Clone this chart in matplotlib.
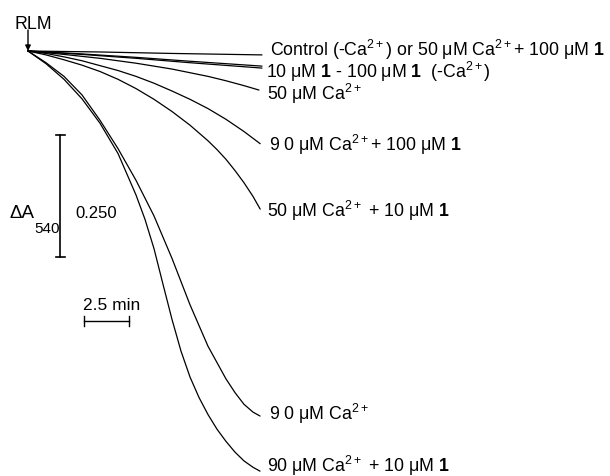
import matplotlib
matplotlib.use("Agg")
import matplotlib.pyplot as plt

plt.rcParams['font.family'] = ['Liberation Sans', 'DejaVu Sans']
plt.rcParams['mathtext.fontset'] = 'custom'
plt.rcParams['mathtext.rm'] = 'Liberation Sans'
plt.rcParams['mathtext.it'] = 'Liberation Sans:italic'
plt.rcParams['mathtext.bf'] = 'Liberation Sans:bold'

# time (min) and absorbance decrease (ΔA540) for each trace
t_control = [0, 4, 8, 13.0]
a_control = [0, 0.002, 0.005, 0.008]

t_c10a = [0, 3, 6, 9, 13.0]
a_c10a = [0, 0.007, 0.015, 0.024, 0.035]
t_c10b = [0, 3, 6, 9, 13.0]
a_c10b = [0, 0.006, 0.013, 0.021, 0.031]

t_ca50 = [0, 2, 4, 6, 8, 10, 11, 12, 12.83]
a_ca50 = [0, 0.007, 0.015, 0.025, 0.037, 0.052, 0.061, 0.071, 0.080]

t_ca90_100 = [0, 1, 2, 3, 4, 5, 6, 7, 8, 9, 10, 11, 12, 12.9]
a_ca90_100 = [0, 0.005, 0.012, 0.020, 0.030, 0.040, 0.052, 0.066, 0.082,
              0.099, 0.118, 0.140, 0.165, 0.190]

t_ca50_10 = [0, 1, 2, 3, 4, 5, 6, 7, 8, 9, 10, 10.5, 11, 11.5, 12, 12.5, 12.9]
a_ca50_10 = [0, 0.008, 0.018, 0.029, 0.042, 0.058, 0.077, 0.099, 0.124, 0.152,
             0.184, 0.202, 0.222, 0.245, 0.270, 0.298, 0.324]

t_ca90 = [0, 1, 2, 3, 4, 5, 6, 7, 8, 9, 10, 11, 11.5, 12, 12.5, 12.89]
a_ca90 = [0, 0.024, 0.052, 0.090, 0.142, 0.200, 0.265, 0.338, 0.425, 0.520,
          0.605, 0.672, 0.700, 0.724, 0.740, 0.748]

t_ca90_10 = [0, 1, 2, 3, 4, 5, 6, 6.5, 7, 7.5, 8, 8.5, 9, 9.5, 10, 10.5, 11,
             11.5, 12, 12.5, 12.89]
a_ca90_10 = [0, 0.026, 0.058, 0.098, 0.148, 0.210, 0.295, 0.345, 0.405, 0.478,
             0.550, 0.615, 0.668, 0.710, 0.745, 0.775, 0.800, 0.822, 0.840,
             0.853, 0.861]

labels = [
    r"Control (-Ca$^{2+}$) or 50 μM Ca$^{2+}$+ 100 μM $\mathbf{1}$",
    r"10 μM $\mathbf{1}$ - 100 μM $\mathbf{1}$  (-Ca$^{2+}$)",
    r"50 μM Ca$^{2+}$",
    r"9 0 μM Ca$^{2+}$+ 100 μM $\mathbf{1}$",
    r"50 μM Ca$^{2+}$ + 10 μM $\mathbf{1}$",
    r"9 0 μM Ca$^{2+}$",
    r"90 μM Ca$^{2+}$ + 10 μM $\mathbf{1}$",
]

scale_a = 0.250
scale_t = 2.5

PX_MIN = 18.0
PX_A = 488.0
X0, Y0 = 28, 52

fig = plt.figure(figsize=(6.10, 4.77), dpi=100)
ax = fig.add_axes([0, 0, 1, 1])
ax.set_xlim(-X0 / PX_MIN, (610 - X0) / PX_MIN)
ax.set_ylim((477 - Y0) / PX_A, -Y0 / PX_A)
ax.axis('off')

traces = [(t_control, a_control), (t_c10a, a_c10a), (t_c10b, a_c10b),
          (t_ca50, a_ca50), (t_ca90_100, a_ca90_100), (t_ca50_10, a_ca50_10),
          (t_ca90, a_ca90), (t_ca90_10, a_ca90_10)]
for t, a in traces:
    ax.plot(t, a, color='black', lw=0.9, solid_joinstyle='round',
            solid_capstyle='round')

FS = 12.8
label_src = [(t_control, a_control, 8, 6), (t_c10a, a_c10a, 4, -3),
             (t_ca50, a_ca50, 8, -3), (t_ca90_100, a_ca90_100, 9, 0),
             (t_ca50_10, a_ca50_10, 7, -1), (t_ca90, a_ca90, 9, 3),
             (t_ca90_10, a_ca90_10, 7, 6)]
for (t, a, dx, dy), lab in zip(label_src, labels):
    ax.annotate(lab, xy=(t[-1], a[-1]), xytext=(dx, dy), textcoords='offset pixels',
                ha='left', va='center', fontsize=FS)

# RLM arrow
ax.annotate("RLM", xy=(0, 0), xytext=(-13, 23), textcoords='offset pixels',
            ha='left', va='baseline', fontsize=FS)
ax.annotate("", xy=(0, 0), xytext=(0, 21), textcoords='offset pixels',
            arrowprops=dict(arrowstyle='-|>', color='black', lw=1.0,
                            mutation_scale=8, shrinkA=0, shrinkB=0))

# vertical scale bar
vx = (60 - X0) / PX_MIN
vy1 = (258 - Y0) / PX_A
ax.plot([vx, vx], [vy1 - scale_a, vy1], color='black', lw=1.2)
for yy in (vy1 - scale_a, vy1):
    ax.plot([vx - 0.25, vx + 0.25], [yy, yy], color='black', lw=1.2)
ax.text((34 - X0) / PX_MIN, (214 - Y0) / PX_A, "ΔA", ha='right', va='center',
        fontsize=13.5)
ax.text((34 - X0) / PX_MIN, (229 - Y0) / PX_A, "540", ha='left', va='center',
        fontsize=11)
ax.text((75 - X0) / PX_MIN, (214 - Y0) / PX_A, f"{scale_a:.3f}", ha='left',
        va='center', fontsize=12)

# horizontal scale bar
hx0 = (84 - X0) / PX_MIN
hy = (322 - Y0) / PX_A
ax.plot([hx0, hx0 + scale_t], [hy, hy], color='black', lw=1.0)
for xx in (hx0, hx0 + scale_t):
    ax.plot([xx, xx], [hy - 0.01, hy + 0.01], color='black', lw=1.0)
ax.text(hx0 - 0.05, hy - 0.018, f"{scale_t} min", ha='left', va='bottom',
        fontsize=12.5)

fig.savefig("out.png", dpi=100)
